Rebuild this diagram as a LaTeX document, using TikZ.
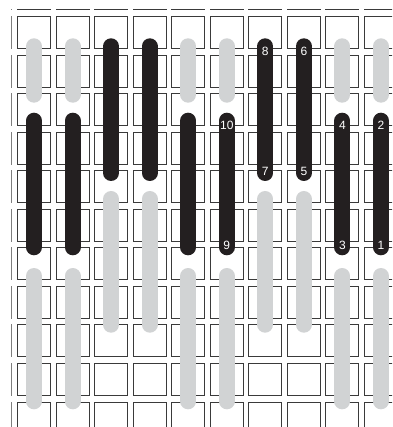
\documentclass[tikz,border=0pt]{standalone}
\usepackage{fontspec}
\setmainfont{Liberation Sans}
\definecolor{barblack}{HTML}{231F20}
\definecolor{bargray}{HTML}{D1D3D4}
\definecolor{gridcol}{HTML}{3A3A3A}
\begin{document}
\begin{tikzpicture}[x=1pt,y=-1pt,
  gridline/.style={draw=gridcol,line width=1pt},
  blackbar/.style={draw=barblack,line width=16pt,line cap=round},
  graybar/.style={draw=bargray,line width=16pt,line cap=round},
  numlabel/.style={text=white,font=\fontsize{12}{14}\selectfont,inner sep=0pt}]
\useasboundingbox (0,0) rectangle (392,427);
\fill[white] (0,0) rectangle (392,427);
\begin{scope}
  \clip (11.4,9.4) rectangle (392,427);
  \foreach \i in {-1,...,9}
    \foreach \j in {-1,...,10}
      \draw[gridline] ({17.5+38.55*\i},{16.5+38.55*\j}) rectangle ++(33,32);
\end{scope}
% type A columns: gray / black / gray
\foreach \k in {0,1,4,5,8,9} {
  \draw[graybar]  ({34+38.55*\k},46.3) -- ({34+38.55*\k},94.7);
  \draw[blackbar] ({34+38.55*\k},120.7) -- ({34+38.55*\k},247.3);
  \draw[graybar]  ({34+38.55*\k},276) -- ({34+38.55*\k},401.3);
}
% type B columns: black / gray
\foreach \k in {2,3,6,7} {
  \draw[blackbar] ({34+38.55*\k},46.3) -- ({34+38.55*\k},173);
  \draw[graybar]  ({34+38.55*\k},199) -- ({34+38.55*\k},324.7);
}
% numbers
\node[numlabel] (n8)  at (265.3,51) {8};
\node[numlabel] (n7)  at (265.3,171) {7};
\node[numlabel] (n6)  at (303.85,51) {6};
\node[numlabel] (n5)  at (303.85,171) {5};
\node[numlabel] (n10) at (226.75,125.5) {10};
\node[numlabel] (n9)  at (226.75,245.5) {9};
\node[numlabel] (n4)  at (342.4,125.5) {4};
\node[numlabel] (n3)  at (342.4,245.5) {3};
\node[numlabel] (n2)  at (380.95,125.5) {2};
\node[numlabel] (n1)  at (380.95,245.5) {1};
\end{tikzpicture}
\end{document}
